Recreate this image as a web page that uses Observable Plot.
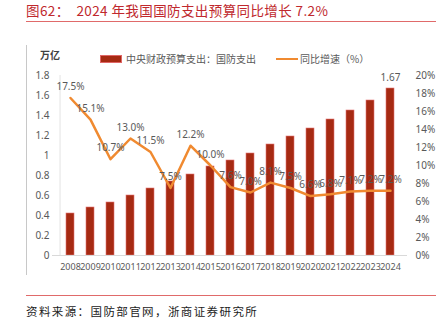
<!DOCTYPE html>
<html>
<head>
<meta charset="utf-8">
<script src="https://cdn.jsdelivr.net/npm/d3@7"></script>
<script src="https://cdn.jsdelivr.net/npm/@observablehq/plot@0.6"></script>
<style>
  body { margin: 0; width: 441px; height: 321px; position: relative; background: #fff; font-family: "Noto Sans CJK SC", "Noto Sans", sans-serif; overflow: hidden; }
  .abs { position: absolute; white-space: nowrap; }
  #title { left: 26px; top: 1px; font-size: 13.5px; color: #c0282d; line-height: 18px; letter-spacing: 0.4px; }
  #topline { left: 26px; top: 21px; width: 410px; height: 1px; background: #e06a6a; }
  #frame { left: 26px; top: 45px; width: 1px; height: 230px; background: #c8c8c8; }
  #unit { left: 40px; top: 48px; font-size: 10px; color: #404040; font-weight: bold; line-height: 14px; }
  #legend { left: 100px; top: 52px; font-size: 10px; color: #595959; line-height: 14px; display: flex; align-items: center; }
  .sw1 { display: inline-block; width: 20px; height: 6px; background: #a62a12; border: 0.5px solid #e06666; margin-right: 4px; }
  .sw2 { display: inline-block; width: 22px; height: 2.5px; background: #f08a30; margin-left: 20px; margin-right: 2px; }
  #chart { left: 0; top: 45px; }
  #botline { left: 26px; top: 295px; width: 410px; height: 1px; background: #e06a6a; }
  #caption { left: 26px; top: 303px; font-size: 11.5px; color: #222; letter-spacing: 1.4px; line-height: 16px; }
</style>
</head>
<body>
<div id="title" class="abs">图62：&nbsp;&nbsp;2024 年我国国防支出预算同比增长 7.2%</div>
<div id="topline" class="abs"></div>
<div id="frame" class="abs"></div>
<div id="unit" class="abs">万亿</div>
<div id="legend" class="abs"><span class="sw1"></span><span>中央财政预算支出：国防支出</span><span class="sw2"></span><span>同比增速（%）</span></div>
<div id="chart" class="abs"></div>
<div id="botline" class="abs"></div>
<div id="caption" class="abs">资料来源：国防部官网，浙商证券研究所</div>
<script>
const years = ["2008","2009","2010","2011","2012","2013","2014","2015","2016","2017","2018","2019","2020","2021","2022","2023","2024"];
const spending = [0.42,0.48,0.53,0.60,0.67,0.74,0.81,0.89,0.95,1.02,1.11,1.19,1.27,1.36,1.45,1.55,1.67];
const growth = [17.5,15.1,10.7,13.0,11.5,7.5,12.2,10.0,7.6,7.0,8.1,7.5,6.6,6.8,7.1,7.2,7.2];
const leftTicks = [0,0.2,0.4,0.6,0.8,1,1.2,1.4,1.6,1.8];
const rightTicks = [0,2,4,6,8,10,12,14,16,18,20];

const k = 1.8 / 20; // growth % -> left axis units
const data = years.map((y, i) => ({year: y, spending: spending[i], growth: growth[i], gy: growth[i] * k}));

const chart = Plot.plot({
  width: 441,
  height: 235,
  marginTop: 30,
  marginBottom: 25,
  marginLeft: 52,
  marginRight: 34,
  style: {fontFamily: "'Noto Sans', sans-serif", fontSize: "10px", color: "#595959", background: "transparent"},
  x: {type: "band", domain: years, padding: 0.62, label: null},
  y: {domain: [0, 1.8], label: null},
  marks: [
    Plot.ruleX([years[0]], {x: () => years[0], dx: -10.45, y1: 0, y2: 1.8, stroke: "#e3e3e3"}),
    Plot.barY(data, {x: "year", y: "spending", fill: "#a62a12", stroke: "#e57373", strokeWidth: 0.6}),
    Plot.ruleY([0], {stroke: "#d9d9d9"}),
    Plot.line(data, {x: "year", y: "gy", stroke: "#f08a30", strokeWidth: 2.5}),
    Plot.text(data, {x: "year", y: "gy", text: d => d.growth.toFixed(1) + "%", dy: -11, fill: "#595959", fontSize: 10}),
    Plot.text(data.filter(d => d.year === "2024"), {x: "year", y: "spending", text: d => d.spending.toFixed(2), dy: -11, fill: "#595959", fontSize: 10}),
    Plot.axisX({tickSize: 0, tickPadding: 8, label: null, fill: "#595959", fontSize: 9, fontFamily: "'Liberation Sans Narrow', 'Noto Sans', sans-serif"}),
    Plot.axisY({anchor: "left", ticks: leftTicks, tickSize: 0, tickPadding: 3, label: null, tickFormat: d => (d === 0 || d === 1) ? String(d) : d.toFixed(1), fill: "#595959"}),
    Plot.axisY({anchor: "right", ticks: rightTicks.map(t => t * k), tickSize: 0, tickPadding: 8, label: null, tickFormat: d => Math.round(d / k) + "%", fill: "#595959"})
  ]
});
document.getElementById("chart").appendChild(chart);
</script>
</body>
</html>
